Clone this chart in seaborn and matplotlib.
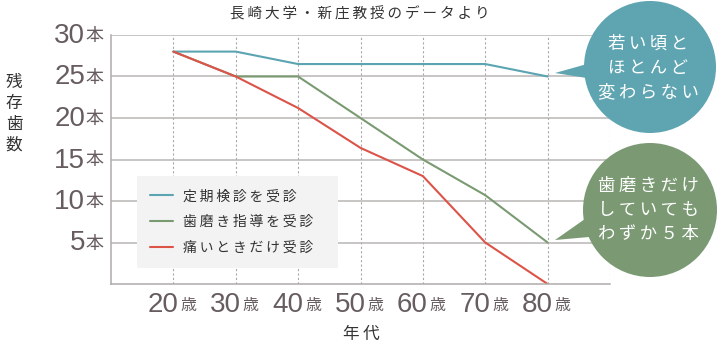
import seaborn as sns
import matplotlib.pyplot as plt
import matplotlib.transforms as mtransforms
from matplotlib.patches import Circle, Polygon
import pandas as pd

# データ
ages = [20, 30, 40, 50, 60, 70, 80]
teeth_checkup = [28, 28, 26.5, 26.5, 26.5, 26.5, 25]
teeth_brushing = [28, 25, 25, 20, 15, 10.7, 5]
teeth_pain_only = [28, 25, 21.2, 16.4, 13.0, 5, 0]
series_names = ['定期検診を受診', '歯磨き指導を受診', '痛いときだけ受診']
y_ticks = [5, 10, 15, 20, 25, 30]

colors = ['#5ba4b1', '#7a9a72', '#dc5348']

df = pd.DataFrame({
    'age': ages * 3,
    'teeth': teeth_checkup + teeth_brushing + teeth_pain_only,
    'group': [series_names[0]] * 7 + [series_names[1]] * 7 + [series_names[2]] * 7,
})

sns.set_style('white')
jp = ['Noto Sans CJK JP', 'DejaVu Sans']
plt.rcParams['font.family'] = jp
num_font = ['Liberation Sans Narrow', 'Liberation Sans']
label_color = '#675d5f'


def spaced(s):
    # 字間を少し広げる
    return '\u2009'.join(s)


fig = plt.figure(figsize=(7.19, 3.51), dpi=100)
ax = fig.add_axes([111 / 719, 1 - 284 / 351, 499 / 719, 249 / 351])

sns.lineplot(data=df, x='age', y='teeth', hue='group', hue_order=series_names,
             palette=colors, linewidth=1.5, sort=False, ax=ax, legend=True)

ax.set_xlim(10, 90)
ax.set_ylim(0, 30)
ax.set_xticks(ages + [90])
ax.set_yticks(y_ticks)
ax.set_xticklabels([])
ax.set_yticklabels([])
ax.tick_params(length=0)
ax.set_xlabel('')
ax.set_ylabel('')
ax.set_axisbelow(True)
ax.yaxis.grid(True, color='#b9b5b5', lw=1.1)
ax.xaxis.grid(True, color='#a9a9a9', lw=0.8, ls=(0, (2, 2)))
for side in ['top', 'right']:
    ax.spines[side].set_visible(False)
for side in ['left', 'bottom']:
    ax.spines[side].set_color('#b0abab')
    ax.spines[side].set_linewidth(1.1)

# 目盛りラベル(数字+単位)
ytr = ax.get_yaxis_transform()
for v in y_ticks:
    ax.text(0, v, str(v), transform=mtransforms.offset_copy(ytr, fig=fig, x=-26, y=-8, units='dots'),
            ha='right', va='baseline', fontsize=20, family=num_font, color=label_color)
    ax.text(0, v, '本', transform=mtransforms.offset_copy(ytr, fig=fig, x=-8, y=-6, units='dots'),
            ha='right', va='baseline', fontsize=13, color=label_color)
xtr = ax.get_xaxis_transform()
for a in ages:
    ax.text(a, 0, str(a), transform=mtransforms.offset_copy(xtr, fig=fig, x=5, y=-28, units='dots'),
            ha='right', va='baseline', fontsize=20, family=num_font, color=label_color)
    ax.text(a, 0, '歳', transform=mtransforms.offset_copy(xtr, fig=fig, x=7, y=-26, units='dots'),
            ha='left', va='baseline', fontsize=11.5, color=label_color)

leg = ax.legend(handles=ax.get_legend_handles_labels()[0],
                labels=[spaced(s) for s in series_names],
                loc='lower left', bbox_to_anchor=(0.052, 0.064, 0.403, 0.386), mode='expand',
                borderaxespad=0, fontsize=10, handlelength=1.65, handletextpad=0.75,
                labelspacing=0.85, borderpad=0.95, frameon=True, fancybox=False)
leg.get_frame().set_facecolor('#f3f3f3')
leg.get_frame().set_edgecolor('none')
leg.get_frame().set_alpha(1)
for t in leg.get_texts():
    t.set_color('#333333')

fig.text(0.5, 1 - 14 / 351, spaced('長崎大学・新庄教授のデータより'), ha='center', va='center',
         fontsize=10.5, color='#333333')
fig.text(14 / 719, 1 - 114 / 351, '\n'.join('残存歯数'), ha='center', va='center',
         fontsize=12, color='#333333', linespacing=1.3)
fig.text(361 / 719, 1 - 334 / 351, spaced('年代'), ha='center', va='center',
         fontsize=12, color='#333333')

# 吹き出し
ov = fig.add_axes([0, 0, 1, 1], zorder=10)
ov.set_xlim(0, 719)
ov.set_ylim(351, 0)
ov.axis('off')
ov.add_patch(Circle((650, 67), 66, color='#5ea5b1', lw=0))
ov.add_patch(Polygon([(555, 73), (612, 57), (612, 82)], closed=True, color='#5ea5b1', lw=0))
ov.add_patch(Circle((650, 210), 67, color='#7b9a74', lw=0))
ov.add_patch(Polygon([(555, 240), (612, 200), (612, 235)], closed=True, color='#7b9a74', lw=0))
bubble_top = ['若い頃と', 'ほとんど', '変わらない']
bubble_bottom = ['歯磨きだけ', 'していても', 'わずか５本']
ov.text(648, 68, '\n'.join(spaced(s) for s in bubble_top),
        ha='center', va='center', fontsize=12.5, color='white', linespacing=1.45)
ov.text(648, 210, '\n'.join(spaced(s) for s in bubble_bottom),
        ha='center', va='center', fontsize=12.5, color='white', linespacing=1.45)

fig.savefig('out.png', dpi=100)
